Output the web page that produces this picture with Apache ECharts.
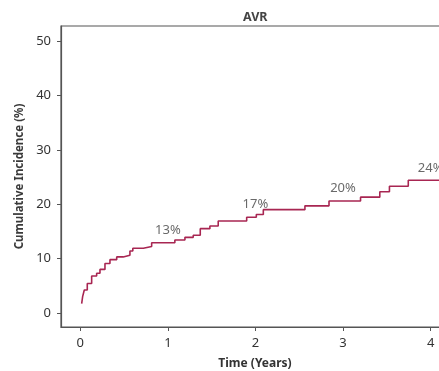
<!DOCTYPE html>
<html>
<head>
<meta charset="utf-8">
<script src="https://cdn.jsdelivr.net/npm/echarts@6/dist/echarts.min.js"></script>
<style>
  html, body { margin: 0; padding: 0; background: #fff; }
  #chart { width: 439px; height: 371px; }
</style>
</head>
<body>
<div id="chart"></div>
<script>
// cumulative incidence step curve (time in years, value in %)
var times  = [0.016, 0.027, 0.046, 0.08, 0.13, 0.187, 0.225, 0.282, 0.339, 0.416, 0.49, 0.567, 0.60, 0.72, 0.815,
              1.08, 1.195, 1.29, 1.37, 1.48, 1.575, 1.9, 2.01, 2.09, 2.565, 2.84, 3.2, 3.42, 3.53, 3.745, 4.3];
var values = [1.7, 3.0, 4.2, 5.4, 6.8, 7.3, 8.0, 9.1, 9.8, 10.3, 10.6, 11.4, 11.9, 12.2, 12.9,
              13.4, 13.9, 14.3, 15.5, 16.0, 16.9, 17.6, 18.1, 19.0, 19.7, 20.6, 21.3, 22.3, 23.3, 24.4, 24.4];

var labelTimes = [1, 2, 3, 4];
var labelTexts = ['13%', '17%', '20%', '24%'];

var xTicks = [0, 1, 2, 3, 4];
var yTicks = [0, 10, 20, 30, 40, 50];

var font = 'Noto Sans';
var axisColor = '#555';
var lineColor = '#a82652';

// value of the step curve at time t
var valueAt = function (t) {
    var v = values[0];
    for (var i = 0; i < times.length; i++) {
        if (times[i] <= t) v = values[i];
    }
    return v;
};

var curve = times.map(function (t, i) { return [t, values[i]]; });
var marks = labelTimes.map(function (t, i) { return { value: [t, valueAt(t)], text: labelTexts[i] }; });

var option = {
    animation: false,
    title: {
        text: 'AVR',
        left: 238,
        top: 6,
        textStyle: { fontFamily: font, fontSize: 12.5, fontWeight: 'bold', color: '#444' }
    },
    grid: {
        left: 61, top: 26, width: 388, height: 301,
        outerBoundsMode: 'none',
        containLabel: false,
        show: true, borderColor: axisColor, borderWidth: 1.2
    },
    xAxis: {
        type: 'value',
        min: -0.22, max: 4.21,
        name: 'Time (Years)',
        nameLocation: 'middle',
        nameGap: 31,
        nameTextStyle: { fontFamily: font, fontSize: 12, fontWeight: 'bold', color: '#333' },
        splitLine: { show: false },
        axisLine: { show: true, onZero: false, lineStyle: { color: axisColor, width: 1.2 } },
        axisTick: { show: true, length: 4, customValues: xTicks, lineStyle: { color: axisColor } },
        axisLabel: { customValues: xTicks, margin: 10, fontFamily: font, fontSize: 13, color: '#333' }
    },
    yAxis: {
        type: 'value',
        min: -2.6, max: 52.8,
        name: 'Cumulative Incidence (%)',
        nameLocation: 'middle',
        nameGap: 32,
        nameTextStyle: { fontFamily: font, fontSize: 11.5, fontWeight: 'bold', color: '#3a3a3a' },
        splitLine: { show: false },
        axisLine: { show: true, onZero: false, lineStyle: { color: axisColor, width: 1.2 } },
        axisTick: { show: true, length: 4, customValues: yTicks, lineStyle: { color: axisColor } },
        axisLabel: { customValues: yTicks, margin: 10, fontFamily: font, fontSize: 13, color: '#333' }
    },
    series: [{
        type: 'line',
        step: 'end',
        data: curve,
        showSymbol: false,
        lineStyle: { color: lineColor, width: 1.6 }
    }, {
        type: 'scatter',
        data: marks,
        symbolSize: 0,
        label: {
            show: true,
            position: 'top',
            distance: 6,
            formatter: function (p) { return p.data.text; },
            fontFamily: font, fontSize: 13, color: '#444'
        }
    }]
};

var myChart = echarts.init(document.getElementById('chart'));
myChart.setOption(option);
</script>
</body>
</html>
